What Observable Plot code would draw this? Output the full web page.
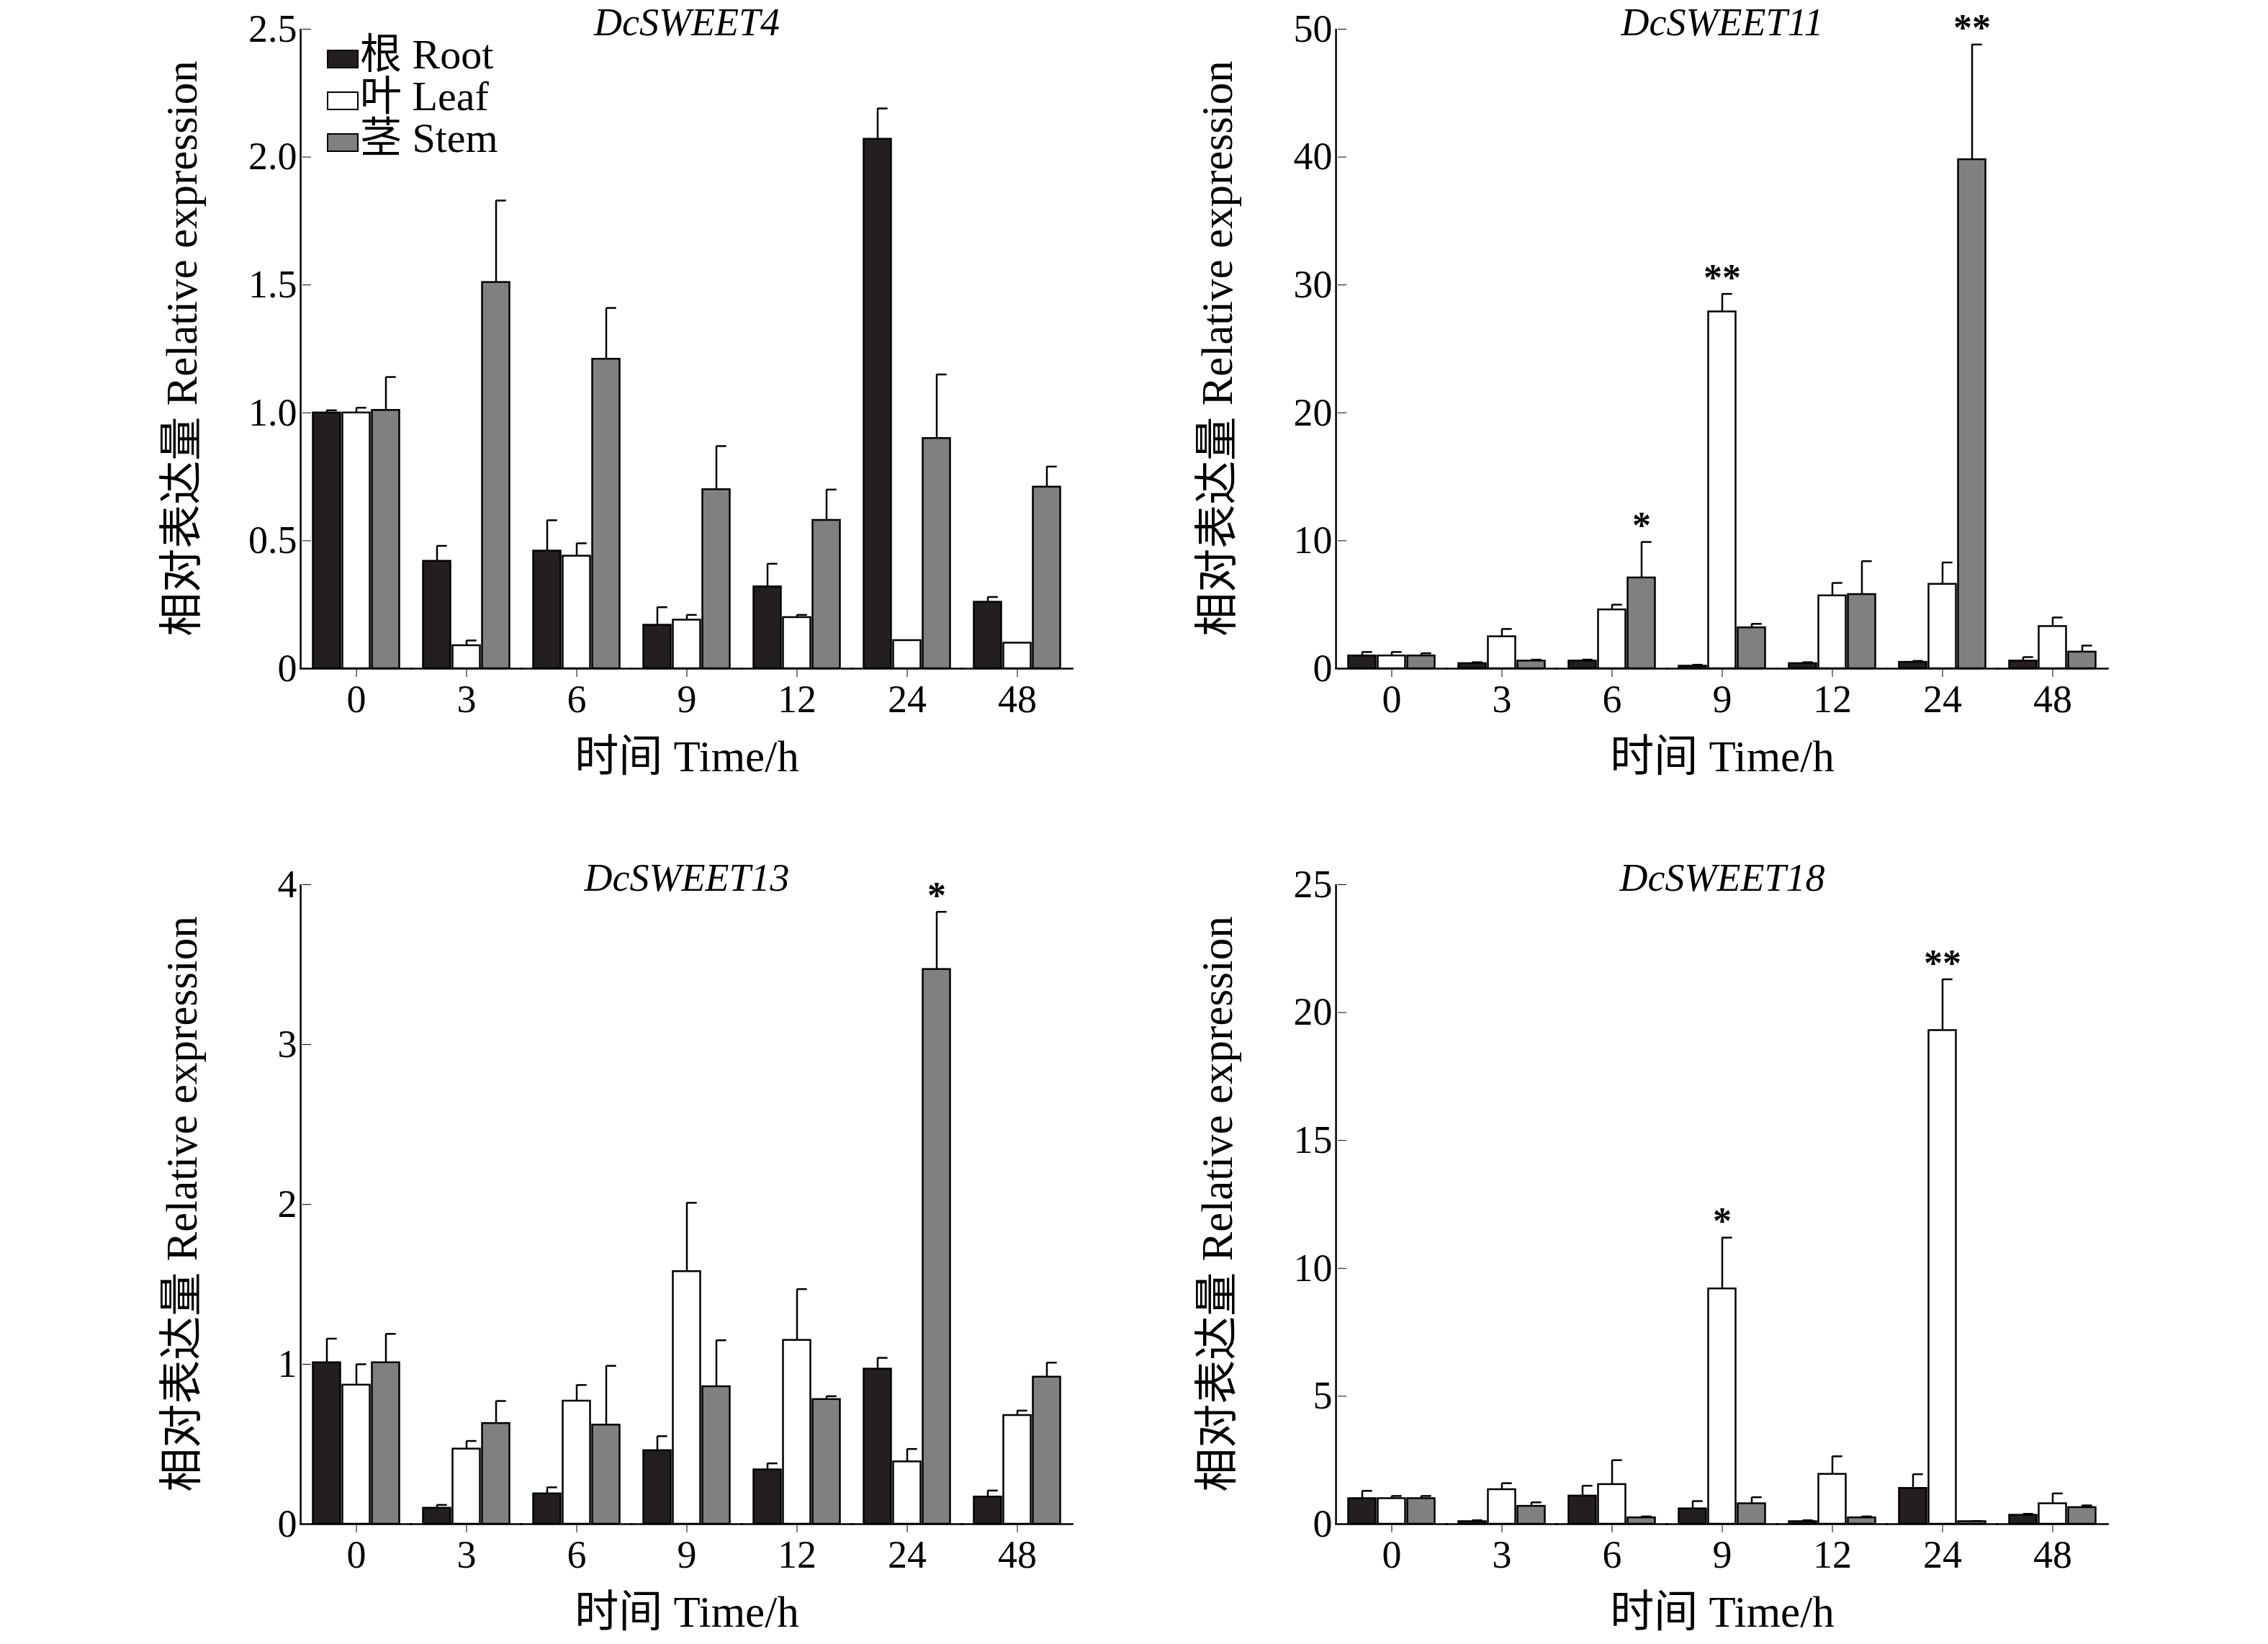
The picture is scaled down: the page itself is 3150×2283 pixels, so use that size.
<!DOCTYPE html>
<html><head><meta charset="utf-8">
<script src="https://cdn.jsdelivr.net/npm/d3@7"></script>
<script src="https://cdn.jsdelivr.net/npm/@observablehq/plot@0.6"></script>
<style>
body{margin:0;background:#fff;width:3150px;height:2283px;position:relative;overflow:hidden;font-family:"Liberation Serif","Noto Sans CJK SC",serif;}
.p{position:absolute}
.t{position:absolute;font-size:54px;white-space:nowrap;color:#000}
.yl{transform:translate(-50%,-50%) rotate(-90deg);font-size:61px}
.ttl{font-style:italic;transform:translateX(-50%)}
.xl{transform:translateX(-50%);font-size:61px}
.lg{font-size:58px}
.sw{display:inline-block;width:44px;height:26px;border:2px solid #000;box-sizing:border-box;vertical-align:middle;margin-right:2px}
</style></head><body>
<script>
const times = ["0","3","6","9","12","24","48"];
const series = ["Root","Leaf","Stem"];
const colors = ["#231f20","#ffffff","#808080"];
const titles = ["DcSWEET4","DcSWEET11","DcSWEET13","DcSWEET18"];
const yTicks = [[0,0.5,1,1.5,2,2.5],[0,10,20,30,40,50],[0,1,2,3,4],[0,5,10,15,20,25]];
const tickFmt = [d=>d===0?"0":d.toFixed(1), d=>String(d), d=>String(d), d=>String(d)];
// values [Root, Leaf, Stem] per time
const mean4  = [[1.00,1.00,1.01],[0.42,0.09,1.51],[0.46,0.44,1.21],[0.17,0.19,0.70],[0.32,0.20,0.58],[2.07,0.11,0.90],[0.26,0.10,0.71]];
const err4   = [[0.01,0.02,0.13],[0.06,0.02,0.32],[0.12,0.05,0.20],[0.07,0.02,0.17],[0.09,0.01,0.12],[0.12,0.00,0.25],[0.02,0.00,0.08]];
const sig4   = [["","",""],["","",""],["","",""],["","",""],["","",""],["","",""],["","",""]];
const mean11 = [[1.0,1.0,1.0],[0.4,2.5,0.6],[0.6,4.6,7.1],[0.2,27.9,3.2],[0.4,5.7,5.8],[0.5,6.6,39.8],[0.6,3.3,1.3]];
const err11  = [[0.3,0.3,0.2],[0.1,0.6,0.1],[0.1,0.4,2.8],[0.1,1.4,0.3],[0.1,1.0,2.6],[0.1,1.7,9.0],[0.3,0.7,0.5]];
const sig11  = [["","",""],["","",""],["","","*"],["","**",""],["","",""],["","","**"],["","",""]];
const mean13 = [[1.01,0.87,1.01],[0.10,0.47,0.63],[0.19,0.77,0.62],[0.46,1.58,0.86],[0.34,1.15,0.78],[0.97,0.39,3.47],[0.17,0.68,0.92]];
const err13  = [[0.15,0.13,0.18],[0.02,0.05,0.14],[0.04,0.10,0.37],[0.09,0.43,0.29],[0.04,0.32,0.02],[0.07,0.08,0.36],[0.04,0.03,0.09]];
const sig13  = [["","",""],["","",""],["","",""],["","",""],["","",""],["","","*"],["","",""]];
const mean18 = [[1.0,1.0,1.0],[0.1,1.35,0.7],[1.1,1.55,0.25],[0.6,9.2,0.8],[0.1,1.95,0.25],[1.4,19.3,0.1],[0.35,0.8,0.65]];
const err18  = [[0.3,0.1,0.1],[0.05,0.25,0.15],[0.4,0.95,0.05],[0.3,2.0,0.25],[0.05,0.7,0.05],[0.55,2.0,0.02],[0.05,0.4,0.08]];
const sig18  = [["","",""],["","",""],["","",""],["","*",""],["","",""],["","**",""],["","",""]];
const means=[mean4,mean11,mean13,mean18], errs=[err4,err11,err13,err18], sigs=[sig4,sig11,sig13,sig18];

const ML=180, MR=20, MT=40, MB=150, PW=1080, PH=888;
const lefts=[414,1852], tops=[40,1228];
const FS=54;
for(let k=0;k<4;k++){
  const rows=[];
  times.forEach((t,i)=>series.forEach((s,j)=>rows.push({t,s,v:means[k][i][j],e:errs[k][i][j],g:sigs[k][i][j]})));
  const ymax=yTicks[k][yTicks[k].length-1];
  const step=PW/(7+0.1*2-0.18); const bw=step*0.82/3; const gap=step*0.18;
  const px=lefts[k%2], py=tops[Math.floor(k/2)];
  const chart=Plot.plot({
    width:PW+ML+MR, height:PH+MT+MB, marginLeft:ML, marginRight:MR, marginTop:MT, marginBottom:MB,
    style:{fontFamily:"Liberation Serif",fontSize:FS+"px",background:"transparent"},
    fx:{domain:times,padding:0.18,paddingOuter:0.1,label:null},
    x:{domain:series,padding:0,axis:null},
    y:{domain:[0,ymax],label:null},
    color:{domain:series,range:colors},
    marks:[
      Plot.axisFx({anchor:"bottom",tickSize:12,tickPadding:10,fontSize:FS,label:null}),
      Plot.axisY({ticks:yTicks[k],tickFormat:tickFmt[k],tickSize:12,tickPadding:8,fontSize:FS,label:null}),
      Plot.ruleX(rows.filter(d=>d.e>0),{fx:"t",x:"s",y1:"v",y2:d=>d.v+d.e,strokeWidth:2.5}),
      Plot.tickY(rows.filter(d=>d.e>0),{fx:"t",x:"s",y:d=>d.v+d.e,strokeWidth:2.5,insetLeft:bw/2,insetRight:bw*0.15}),
      Plot.barY(rows,{fx:"t",x:"s",y:"v",fill:"s",stroke:"#000",strokeWidth:2.5,insetLeft:1.5,insetRight:1.5}),
      Plot.text(rows.filter(d=>d.g),{fx:"t",x:"s",y:d=>d.v+d.e,text:"g",dy:-22,fontSize:52,fontWeight:"bold"}),
      Plot.ruleY([0],{strokeWidth:2.5,insetLeft:-gap/2-2,insetRight:-gap/2-2}),
      Plot.ruleX([{t:"0",s:"Root"}],{fx:"t",x:"s",y1:0,y2:ymax,dx:-(bw/2+step*0.1),strokeWidth:2.5})
    ]
  });
  chart.classList.add("p");
  chart.style.left=(px-ML)+"px"; chart.style.top=(py-MT)+"px";
  document.body.appendChild(chart);
  const add=(html,cls,x,y)=>{const d=document.createElement("div");d.className="t "+cls;d.innerHTML=html;d.style.left=x+"px";d.style.top=y+"px";document.body.appendChild(d);};
  add(titles[k],"ttl",px+PW/2,py-40);
  add("时间 Time/h","xl",px+PW/2,py+PH+72);
  add("相对表达量 Relative expression","yl",px-168,py+PH/2);
  if(k===0){
    const lab=["根 Root","叶 Leaf","茎 Stem"];
    lab.forEach((l,j)=>add(`<span class="sw" style="background:${colors[j]}"></span>${l}`,"lg",px+40,py-12+j*58));
  }
}
</script>
</body></html>
